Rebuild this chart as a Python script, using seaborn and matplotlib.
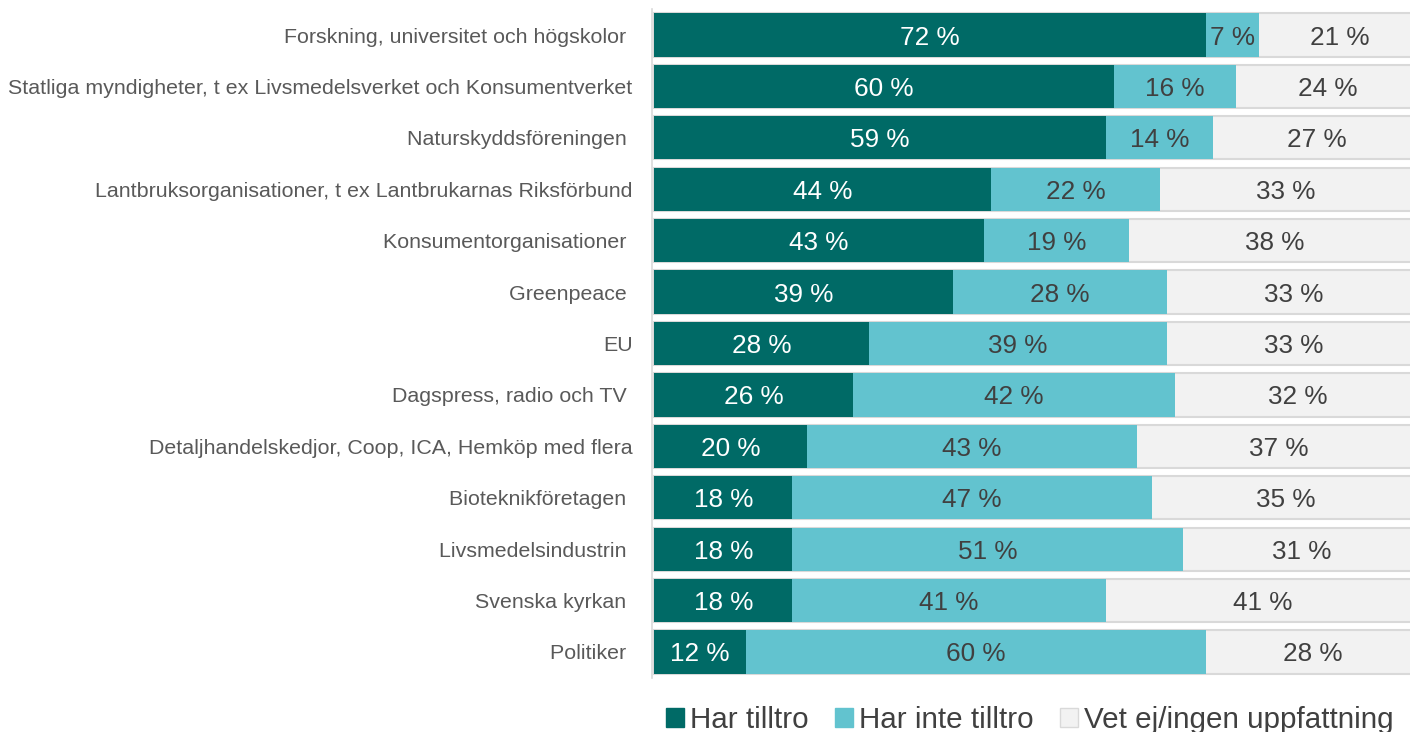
import numpy as np
import pandas as pd
import matplotlib
matplotlib.use("Agg")
import matplotlib.pyplot as plt
import seaborn as sns
from matplotlib.patches import Patch
from matplotlib.ticker import FixedLocator

categories = [
    "Forskning, universitet och högskolor ",
    "Statliga myndigheter, t ex Livsmedelsverket och Konsumentverket",
    "Naturskyddsföreningen ",
    "Lantbruksorganisationer, t ex Lantbrukarnas Riksförbund",
    "Konsumentorganisationer ",
    "Greenpeace ",
    "EU",
    "Dagspress, radio och TV ",
    "Detaljhandelskedjor, Coop, ICA, Hemköp med flera",
    "Bioteknikföretagen ",
    "Livsmedelsindustrin ",
    "Svenska kyrkan ",
    "Politiker ",
]
har_tilltro = [72, 60, 59, 44, 43, 39, 28, 26, 20, 18, 18, 18, 12]
har_inte_tilltro = [7, 16, 14, 22, 19, 28, 39, 42, 43, 47, 51, 41, 60]
vet_ej = [21, 24, 27, 33, 38, 33, 33, 32, 37, 35, 31, 41, 28]
series_names = ["Har tilltro", "Har inte tilltro", "Vet ej/ingen uppfattning"]

c_dark = "#006A66"
c_light = "#62C3CF"
c_gray = "#F2F2F2"
c_gray_edge = "#D9D9D9"

sns.set_theme(style="white")
plt.rcParams['font.family'] = ['Liberation Sans', 'DejaVu Sans']

df = pd.DataFrame({
    "cat": categories,
    "a": har_tilltro,
    "b": har_inte_tilltro,
    "c": vet_ej,
})
df["ab"] = df["a"] + df["b"]
df["abc"] = df["ab"] + df["c"]

fig = plt.figure(figsize=(14.1, 7.32), dpi=100)
ax = fig.add_axes([652 / 1410, 1 - 677.7 / 732, 768 / 1410, (677.7 - 9.3) / 732])

bw = 0.84
sns.barplot(data=df, y="cat", x="abc", orient="h", color=c_gray, edgecolor=c_gray_edge,
            linewidth=1.5, width=bw, saturation=1, ax=ax)
sns.barplot(data=df, y="cat", x="ab", orient="h", color=c_light, edgecolor="none",
            linewidth=0, width=bw, saturation=1, ax=ax)
sns.barplot(data=df, y="cat", x="a", orient="h", color=c_dark, edgecolor="none",
            linewidth=0, width=bw, saturation=1, ax=ax)

fs = 18.8
for i, (a, b, c) in enumerate(zip(har_tilltro, har_inte_tilltro, vet_ej)):
    ax.text(a / 2, i, f"{a} %", ha="center", va="center_baseline", color="white", fontsize=fs)
    ax.text(a + b / 2, i, f"{b} %", ha="center", va="center_baseline", color="#404040", fontsize=fs)
    ax.text(a + b + c / 2, i, f"{c} %", ha="center", va="center_baseline", color="#404040", fontsize=fs)

ax.set_xlim(-0.3, 100)
ax.set_ylim(len(categories) - 0.5, -0.5)
ax.set_xlabel("")
ax.set_ylabel("")
ax.set_xticks([])
for s in ["top", "right", "bottom"]:
    ax.spines[s].set_visible(False)
ax.spines["left"].set_color(c_gray_edge)
ax.spines["left"].set_linewidth(1.2)
ax.tick_params(axis="y", which="major", length=0, pad=14, labelsize=15.4, labelcolor="#595959")
ax.yaxis.set_minor_locator(FixedLocator(np.arange(-0.5, len(categories), 1.0)))
ax.tick_params(axis="y", which="minor", length=7, width=1.2, color=c_gray_edge)

handles = [
    Patch(facecolor=c_dark, edgecolor=c_dark),
    Patch(facecolor=c_light, edgecolor=c_light),
    Patch(facecolor=c_gray, edgecolor=c_gray_edge),
]
fig.legend(handles, series_names, loc="center", bbox_to_anchor=(0.7305, 0.017), ncol=3,
           frameon=False, fontsize=21.3, handlelength=0.6, handleheight=0.6,
           handletextpad=0.2, columnspacing=0.9, labelcolor="#404040")

fig.savefig("out.png", dpi=100)
